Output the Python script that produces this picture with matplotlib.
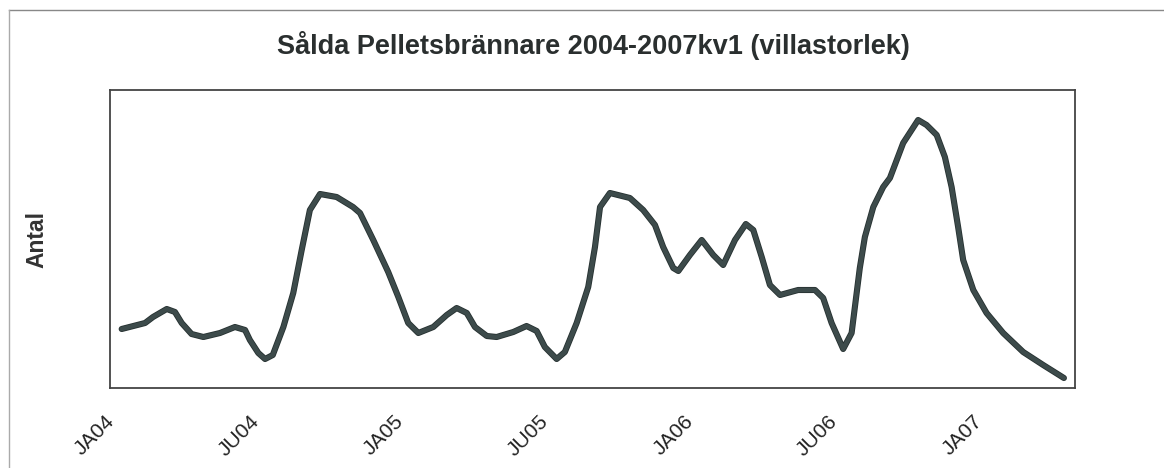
import matplotlib
matplotlib.use("Agg")
import matplotlib.pyplot as plt
import matplotlib.patheffects as pe
from matplotlib.lines import Line2D
from matplotlib.transforms import ScaledTranslation

plt.rcParams['font.family'] = ['Liberation Sans', 'DejaVu Sans']

# months since jan 2004
months = [0.00, 0.97, 1.30, 1.87, 2.21, 2.49, 2.90, 3.39, 4.08, 4.70,
          5.12, 5.32, 5.67, 5.95, 6.27, 6.71, 7.12, 7.47, 7.81, 8.23,
          8.92, 9.60, 9.89, 10.44, 11.06, 11.48, 11.89, 12.31, 12.93, 13.49,
          13.90, 14.32, 14.66, 15.15, 15.56, 16.25, 16.80, 17.22, 17.56, 18.05,
          18.39, 18.88, 19.36, 19.64, 19.85, 20.26, 21.09, 21.64, 22.13, 22.47,
          22.89, 23.10, 23.58, 24.07, 24.55, 24.96, 25.45, 25.90, 26.21, 26.56,
          26.90, 27.32, 28.07, 28.77, 29.11, 29.46, 29.94, 30.29, 30.63, 30.84,
          31.19, 31.60, 31.88, 32.43, 33.05, 33.40, 33.82, 34.16, 34.44, 34.71,
          34.92, 35.34, 35.89, 36.58, 37.41, 38.24, 39.10]
antal = [59, 65, 71, 79, 76, 65, 54, 51, 55, 61,
         58, 48, 35, 29, 33, 61, 95, 138, 178, 194,
         191, 181, 175, 148, 116, 91, 65, 55, 61, 73,
         80, 75, 61, 52, 51, 56, 62, 57, 41, 29,
         36, 65, 101, 141, 181, 195, 190, 178, 163, 141,
         120, 117, 133, 148, 133, 123, 148, 164, 158, 131,
         103, 93, 98, 98, 90, 65, 39, 55, 120, 151,
         181, 201, 210, 245, 268, 263, 253, 231, 201, 161,
         128, 98, 75, 55, 36, 23, 10]

tick_months = [0, 6, 12, 18, 24, 30, 36]
tick_labels = ['JA04', 'JU04', 'JA05', 'JU05', 'JA06', 'JU06', 'JA07']

fig = plt.figure(figsize=(11.64, 4.68), dpi=100)
ax = fig.add_axes([110 / 1164, 80 / 468, 965 / 1164, 298 / 468])

ax.plot(months, antal, color='#3d4b4b', lw=3.2, solid_capstyle='round',
        solid_joinstyle='round',
        path_effects=[pe.Stroke(linewidth=4.4, foreground='#263131'), pe.Normal()])

ax.set_xlim(-0.485, 39.56)
ax.set_ylim(0, 298)
ax.set_yticks([])
ax.set_xticks(tick_months)
ax.set_xticklabels(tick_labels, rotation=45, ha='right', va='center',
                   rotation_mode='anchor', fontsize=15, color='#222222')
ax.tick_params(axis='x', length=0, pad=22)
for lab in ax.get_xticklabels():
    lab.set_transform(lab.get_transform() + ScaledTranslation(-0.10, 0, fig.dpi_scale_trans))

for s in ax.spines.values():
    s.set_color('#444444')
    s.set_linewidth(1.3)

ax.set_ylabel('Antal', fontsize=16.5, fontweight='bold', color='#333333', labelpad=44)

fig.text(593 / 1164, 1 - 46 / 468, 'Sålda Pelletsbrännare 2004-2007kv1 (villastorlek)',
         ha='center', va='center', fontsize=19.5, fontweight='bold', color='#2a2f2f')

# outer frame (top and left edges only visible)
fig.add_artist(Line2D([9 / 1164, 1.0], [1 - 10 / 468, 1 - 10 / 468],
                      transform=fig.transFigure, color='#888888', lw=1.0))
fig.add_artist(Line2D([9 / 1164, 9 / 1164], [0.0, 1 - 10 / 468],
                      transform=fig.transFigure, color='#aaaaaa', lw=1.0))

fig.savefig('out.png', dpi=100, facecolor='white')
